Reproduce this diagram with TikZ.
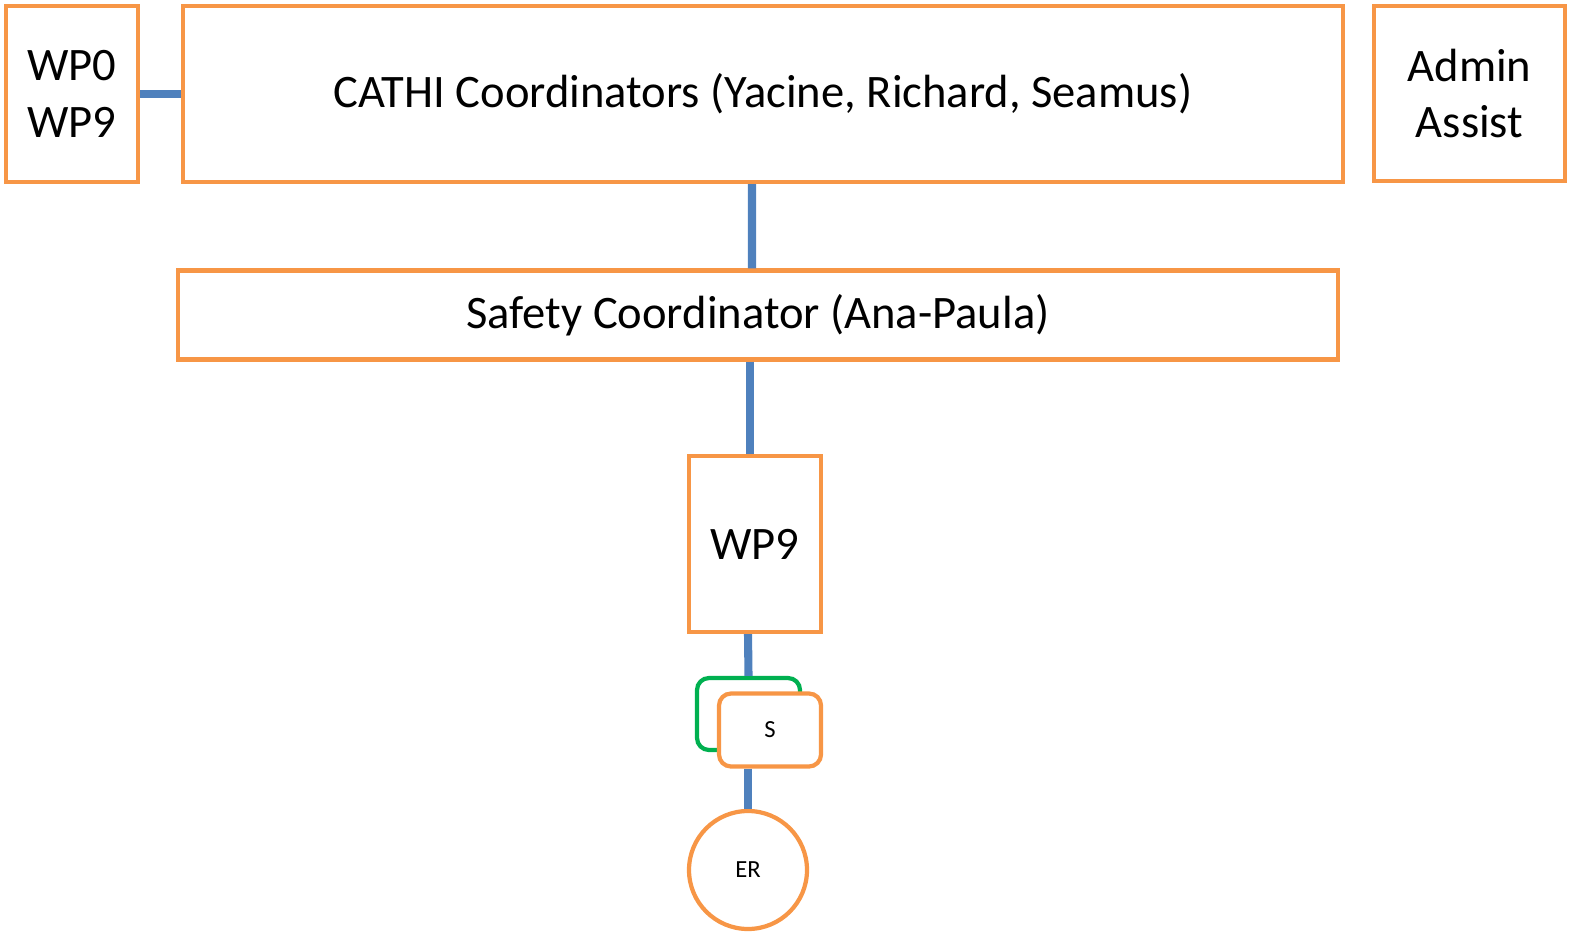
\documentclass[tikz,border=0pt]{standalone}
\usepackage{fontspec}
\setmainfont{Carlito}
\usepackage{tikz}
\usetikzlibrary{positioning, calc}
\definecolor{boxorange}{HTML}{F79646}
\definecolor{linkblue}{HTML}{4F81BD}
\definecolor{subgreen}{HTML}{00B050}
\tikzset{
    box/.style = {draw=boxorange, line width=2.4pt, fill=white, inner sep=0pt,
        align=center, font=\fontsize{26.5}{32.4}\selectfont},
    smallbox/.style = {box, rounded corners=0.24cm, font=\fontsize{14}{17}\selectfont},
    backbox/.style = {draw=subgreen, line width=2.4pt, rounded corners=0.24cm,
        inner sep=0pt, minimum width=2.06cm, minimum height=1.44cm},
    roundnode/.style = {box, circle, minimum size=2.36cm, font=\fontsize{14}{17}\selectfont},
    link/.style = {draw=linkblue, line width=4.6pt},
}

\begin{document}
\begin{tikzpicture}
        \useasboundingbox (0,0) rectangle (31.62,-18.8);
        \node [box, minimum width=2.64cm, minimum height=3.52cm] (wpzero) at (1.44,-1.88) {WP0\\WP9};
        \node [box, minimum width=23.2cm, minimum height=3.52cm] (cathi) at (15.26,-1.88) {CATHI Coordinators (Yacine, Richard, Seamus)};
        \node [box, minimum width=3.82cm, minimum height=3.5cm] (admin) at (29.39,-1.87) {Admin\\Assist};
        \node [box, minimum width=23.2cm, minimum height=1.78cm] (safety) at (15.16,-6.3) {Safety Coordinator (Ana-Paula)};
        \node [box, minimum width=2.64cm, minimum height=3.52cm] (wpnine) at (15.10,-10.88) {WP9};
        \node [backbox] (group) at (14.97,-14.28) {};
        \node [smallbox, minimum width=2.04cm, minimum height=1.46cm] (staff) at (15.4,-14.6) {S};
        \node [roundnode] (er) at (14.96,-17.4) {ER};
        % connectors
        \draw [link] (wpzero.east) -- (cathi.west);
        \draw [link] ([xshift=-0.22cm]cathi.south) -- ([xshift=-0.12cm]safety.north);
        \draw [link] ([xshift=-0.16cm]safety.south) -- ([xshift=-0.1cm]wpnine.north);
        \draw [link] ([xshift=-0.14cm]wpnine.south) -- (group.north);
        \draw [link] (er.north |- staff.south) -- (er.north);
\end{tikzpicture}
\end{document}
